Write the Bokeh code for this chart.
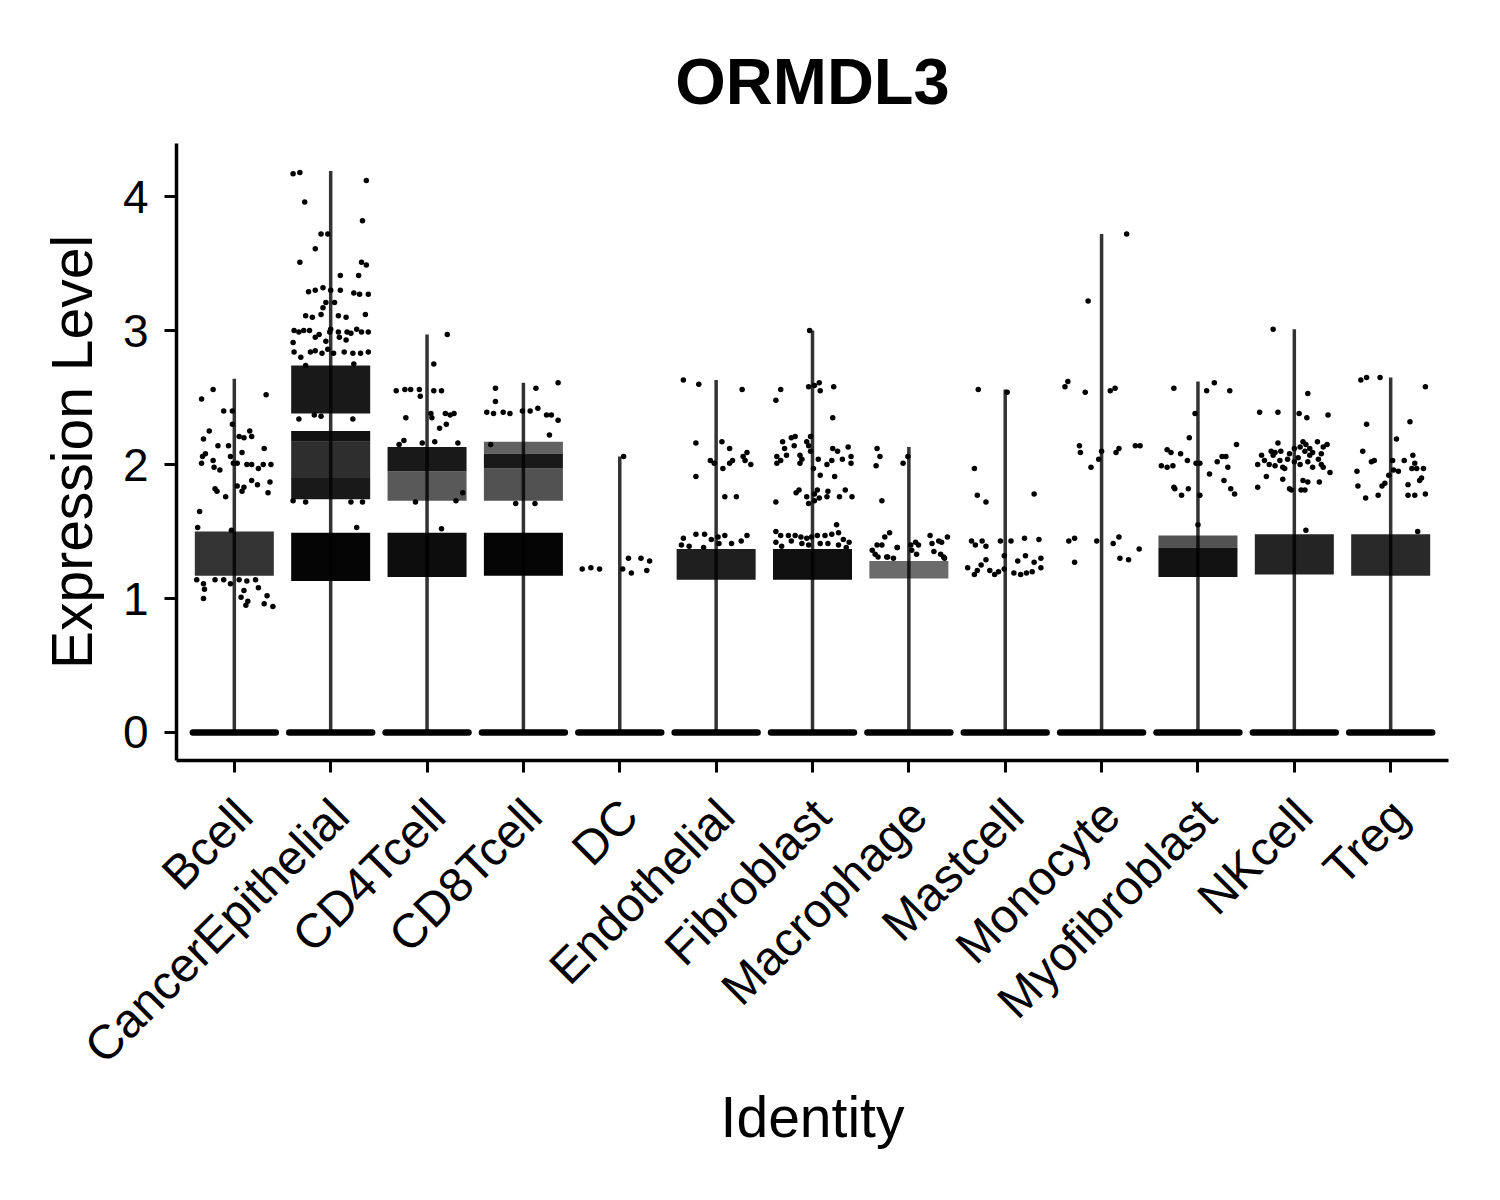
from math import pi
from bokeh.plotting import figure
from bokeh.models import Range1d, FixedTicker, ColumnDataSource
from bokeh.embed import file_html
from bokeh.resources import INLINE

FONT = "Liberation Sans"

cell_types = ["Bcell", "CancerEpithelial", "CD4Tcell", "CD8Tcell", "DC", "Endothelial",
              "Fibroblast", "Macrophage", "Mastcell", "Monocyte", "Myofibroblast", "NKcell", "Treg"]
y_ticks = [0, 1, 2, 3, 4]

# maximum expression per identity (top of the violin)
max_expr = [2.64, 4.19, 2.97, 2.61, 2.06, 2.63, 3.00, 2.13, 2.56, 3.72, 2.62, 3.01, 2.65]

# dense clouds of overlapping cells: identity, lower / upper expression, how packed
band_cell = ["Bcell",
             "CancerEpithelial", "CancerEpithelial", "CancerEpithelial", "CancerEpithelial", "CancerEpithelial",
             "CD4Tcell", "CD4Tcell", "CD4Tcell",
             "CD8Tcell", "CD8Tcell", "CD8Tcell", "CD8Tcell",
             "Endothelial", "Fibroblast", "Macrophage",
             "Myofibroblast", "Myofibroblast", "NKcell", "Treg"]
band_low = [1.17,
            1.13, 1.74, 1.90, 2.17, 2.38,
            1.16, 1.73, 1.95,
            1.17, 1.73, 1.97, 2.08,
            1.14, 1.14, 1.15,
            1.16, 1.38, 1.18, 1.17]
band_high = [1.50,
             1.49, 1.90, 2.17, 2.25, 2.74,
             1.49, 1.95, 2.13,
             1.49, 1.97, 2.08, 2.17,
             1.37, 1.37, 1.28,
             1.38, 1.47, 1.48, 1.48]
band_packing = [0.80,
                0.98, 0.90, 0.82, 0.93, 0.90,
                0.95, 0.65, 0.90,
                0.98, 0.68, 0.90, 0.62,
                0.88, 0.94, 0.58,
                0.93, 0.68, 0.86, 0.84]

# individually visible cells: (jitter, expression)
pts_Bcell = [(-0.34, 2.49), (-0.22, 2.56), (0.33, 2.52), (-0.11, 2.40), (-0.02, 2.40), (-0.02, 2.30),
             (-0.26, 2.25), (-0.32, 2.19), (-0.17, 2.14), (-0.06, 2.14), (0.05, 2.21), (0.10, 2.20),
             (0.18, 2.21), (0.16, 2.25), (0.31, 2.12), (-0.33, 2.06), (-0.30, 2.08), (-0.34, 2.01),
             (-0.22, 2.03), (-0.21, 1.98), (-0.15, 1.96), (-0.04, 2.06), (-0.01, 2.01), (0.03, 2.01),
             (0.08, 2.09), (0.13, 2.00), (0.18, 2.00), (0.25, 1.97), (0.30, 2.00), (0.38, 2.00),
             (0.18, 1.88), (0.24, 1.85), (0.37, 1.87), (-0.20, 1.82), (-0.18, 1.80), (-0.09, 1.76),
             (0.03, 1.84), (0.10, 1.83), (0.08, 1.80), (0.35, 1.79), (-0.36, 1.65), (-0.38, 1.53),
             (-0.03, 1.51), (-0.39, 1.14), (-0.32, 1.11), (-0.31, 1.07), (-0.32, 1.00), (-0.20, 1.14),
             (-0.11, 1.14), (-0.04, 1.11), (0.05, 1.14), (0.13, 1.13), (0.22, 1.14), (0.10, 1.06),
             (0.07, 1.01), (0.14, 0.98), (0.12, 0.95), (0.25, 1.08), (0.34, 1.02), (0.31, 0.96),
             (0.40, 0.94)]
pts_CancerEpithelial = [(-0.39, 4.17), (-0.32, 4.18), (0.37, 4.12), (-0.27, 3.96), (0.33, 3.82),
                        (-0.10, 3.72), (-0.03, 3.72), (-0.16, 3.61), (-0.32, 3.51), (0.32, 3.51),
                        (0.37, 3.49), (0.10, 3.41), (0.29, 3.41), (-0.23, 3.29), (-0.16, 3.30),
                        (-0.08, 3.32), (0.00, 3.30), (0.10, 3.30), (0.24, 3.28), (0.30, 3.27),
                        (0.39, 3.27), (-0.05, 3.21), (0.04, 3.21), (-0.08, 3.17), (-0.26, 3.11),
                        (-0.19, 3.10), (-0.10, 3.12), (0.08, 3.11), (0.16, 3.10), (0.36, 3.12),
                        (-0.38, 3.00), (-0.33, 2.99), (-0.28, 3.00), (-0.22, 3.00), (-0.16, 2.95),
                        (-0.12, 2.97), (-0.05, 2.92), (-0.01, 2.99), (0.00, 3.01), (0.08, 2.99),
                        (0.17, 2.99), (0.09, 2.95), (0.16, 2.93), (0.21, 2.98), (0.27, 3.01),
                        (0.32, 2.99), (0.39, 2.99), (-0.39, 2.91), (-0.38, 2.84), (-0.31, 2.80),
                        (-0.21, 2.84), (-0.16, 2.85), (-0.09, 2.83), (-0.03, 2.86), (0.03, 2.83),
                        (0.14, 2.84), (0.23, 2.83), (0.31, 2.83), (0.39, 2.84), (0.24, 2.75),
                        (-0.26, 2.74), (-0.33, 2.34), (-0.17, 2.37), (-0.10, 2.36), (0.23, 2.34),
                        (-0.39, 1.73), (-0.26, 1.72), (0.21, 1.72), (0.33, 1.72), (0.27, 1.53)]
pts_CD4Tcell = [(0.21, 2.97), (0.07, 2.75), (-0.32, 2.55), (-0.23, 2.56), (-0.17, 2.56), (-0.08, 2.56),
                (-0.07, 2.51), (0.07, 2.55), (0.15, 2.55), (-0.22, 2.35), (0.04, 2.38), (0.05, 2.35),
                (0.19, 2.38), (0.24, 2.37), (0.28, 2.38), (0.13, 2.27), (0.20, 2.30), (-0.24, 2.18),
                (-0.29, 2.15), (0.08, 2.17), (0.32, 2.16), (-0.05, 2.16), (0.15, 1.52), (0.30, 1.73),
                (0.37, 1.79), (-0.12, 1.72)]
pts_CD8Tcell = [(0.36, 2.61), (-0.29, 2.57), (0.13, 2.57), (-0.29, 2.47), (-0.38, 2.39), (-0.31, 2.38),
                (-0.21, 2.39), (-0.14, 2.38), (-0.01, 2.40), (0.07, 2.40), (0.15, 2.42), (0.24, 2.37),
                (0.29, 2.37), (0.36, 2.33), (0.27, 2.22), (-0.34, 2.15), (-0.08, 1.71), (0.12, 1.71)]
pts_DC = [(-0.39, 1.22), (-0.30, 1.23), (-0.21, 1.22), (0.04, 2.06), (0.09, 1.30), (0.03, 1.22),
          (0.12, 1.19), (0.22, 1.30), (0.31, 1.28), (0.28, 1.21)]
pts_Endothelial = [(-0.34, 2.63), (-0.18, 2.60), (0.27, 2.56), (-0.21, 2.16), (-0.21, 1.91), (0.06, 2.17),
                   (0.14, 2.12), (-0.06, 2.03), (-0.02, 2.01), (0.07, 1.97), (0.14, 2.01), (0.17, 2.03),
                   (0.28, 2.06), (0.32, 2.09), (0.36, 2.00), (0.30, 2.03), (0.09, 1.76), (0.21, 1.76),
                   (-0.34, 1.45), (-0.21, 1.48), (-0.12, 1.48), (-0.05, 1.44), (0.02, 1.46), (0.09, 1.47),
                   (0.16, 1.41), (0.26, 1.43), (0.32, 1.47), (-0.36, 1.40), (-0.28, 1.39), (-0.13, 1.38),
                   (0.03, 1.41)]
pts_Fibroblast = [(-0.03, 3.00), (-0.38, 2.48), (-0.33, 2.56), (-0.04, 2.58), (0.02, 2.59), (0.07, 2.61),
                  (0.08, 2.55), (0.22, 2.58), (0.21, 2.35), (-0.37, 2.06), (-0.33, 2.03), (-0.37, 2.01),
                  (-0.31, 2.17), (-0.27, 2.07), (-0.29, 2.12), (-0.22, 2.20), (-0.18, 2.21), (-0.19, 2.14),
                  (-0.13, 2.07), (-0.13, 2.01), (-0.11, 2.04), (-0.06, 2.17), (-0.04, 2.14), (-0.02, 2.10),
                  (-0.02, 2.21), (0.06, 2.04), (0.15, 2.00), (0.20, 2.03), (0.21, 2.12), (0.26, 2.10),
                  (0.31, 2.04), (0.37, 2.13), (0.40, 2.06), (0.40, 2.01), (0.23, 1.91), (0.08, 1.92),
                  (0.01, 1.97), (-0.38, 1.72), (-0.17, 1.79), (-0.14, 1.81), (-0.06, 1.76), (-0.04, 1.71),
                  (0.02, 1.78), (0.05, 1.81), (0.07, 1.75), (0.02, 1.73), (0.15, 1.76), (0.16, 1.80),
                  (0.28, 1.76), (0.34, 1.81), (0.41, 1.76), (0.25, 1.55), (-0.38, 1.50), (-0.33, 1.47),
                  (-0.25, 1.47), (-0.18, 1.47), (-0.12, 1.46), (-0.06, 1.45), (-0.01, 1.46), (0.05, 1.47),
                  (0.13, 1.47), (0.20, 1.48), (0.27, 1.49), (0.32, 1.44), (0.38, 1.42), (-0.38, 1.42),
                  (-0.32, 1.39), (-0.22, 1.43), (-0.11, 1.41), (-0.04, 1.40), (0.08, 1.41), (0.16, 1.41),
                  (0.27, 1.40), (0.35, 1.38)]
pts_Macrophage = [(-0.33, 2.12), (-0.30, 2.06), (-0.34, 1.99), (-0.28, 1.73), (-0.06, 2.01), (-0.01, 2.06),
                  (-0.20, 1.49), (-0.25, 1.46), (-0.12, 1.38), (-0.33, 1.40), (-0.28, 1.40), (0.22, 1.47),
                  (0.31, 1.43), (0.34, 1.42), (0.40, 1.46), (0.24, 1.41), (0.07, 1.42), (0.10, 1.40),
                  (-0.38, 1.36), (-0.35, 1.33), (-0.32, 1.31), (-0.23, 1.31), (-0.16, 1.30), (0.03, 1.36),
                  (0.08, 1.33), (0.26, 1.35), (0.33, 1.33), (0.36, 1.31), (-0.12, 1.38), (0.02, 1.40),
                  (0.37, 1.30), (-0.22, 1.31)]
pts_Mastcell = [(-0.28, 2.56), (0.02, 2.54), (-0.32, 1.97), (-0.29, 1.77), (-0.20, 1.72), (-0.35, 1.43),
                (-0.31, 1.40), (-0.24, 1.43), (-0.20, 1.39), (-0.05, 1.43), (0.06, 1.43), (-0.01, 1.32),
                (-0.20, 1.29), (-0.39, 1.23), (-0.32, 1.18), (-0.29, 1.21), (-0.25, 1.25), (-0.16, 1.21),
                (-0.11, 1.18), (-0.07, 1.20), (-0.01, 1.22), (0.13, 1.28), (0.09, 1.19), (0.30, 1.78),
                (0.20, 1.45), (0.35, 1.44), (0.21, 1.32), (0.30, 1.27), (0.37, 1.30), (0.37, 1.23),
                (0.28, 1.20), (0.22, 1.19), (0.16, 1.18)]
pts_Monocyte = [(0.26, 3.72), (-0.14, 3.22), (-0.38, 2.58), (-0.35, 2.62), (-0.17, 2.54), (0.09, 2.55),
                (0.14, 2.57), (-0.23, 2.14), (-0.22, 2.09), (-0.11, 1.98), (-0.03, 2.04), (0.00, 2.10),
                (0.15, 2.09), (0.18, 2.12), (0.35, 2.14), (0.40, 2.14), (-0.34, 1.43), (-0.28, 1.45),
                (-0.28, 1.27), (-0.05, 1.43), (0.12, 1.41), (0.18, 1.46), (0.19, 1.30), (0.28, 1.29),
                (0.39, 1.37)]
pts_Myofibroblast = [(-0.25, 2.57), (0.09, 2.55), (0.17, 2.61), (0.33, 2.55), (-0.03, 2.38), (-0.09, 2.20),
                     (-0.32, 2.11), (-0.28, 2.09), (-0.18, 2.08), (-0.11, 2.03), (-0.38, 1.99), (-0.32, 1.98),
                     (-0.26, 1.99), (-0.02, 2.01), (0.02, 2.01), (0.12, 1.93), (0.20, 2.02), (0.25, 2.06),
                     (0.29, 2.06), (0.31, 1.98), (0.40, 2.15), (0.27, 1.88), (-0.25, 1.83), (-0.24, 1.82),
                     (-0.17, 1.77), (-0.10, 1.82), (0.02, 1.77), (0.34, 1.82), (0.38, 1.78), (0.00, 1.55)]
pts_NKcell = [(-0.22, 3.01), (0.14, 2.53), (-0.36, 2.39), (-0.17, 2.39), (0.05, 2.38), (0.13, 2.35),
              (0.35, 2.37), (-0.17, 2.16), (0.09, 2.17), (0.12, 2.15), (0.24, 2.17), (0.34, 2.15),
              (-0.34, 2.07), (-0.24, 2.10), (-0.20, 2.09), (-0.14, 2.10), (-0.22, 2.07), (-0.05, 2.08),
              (0.00, 2.12), (0.06, 2.13), (0.11, 2.10), (0.16, 2.12), (0.19, 2.09), (0.28, 2.08),
              (0.30, 2.13), (-0.38, 2.00), (-0.26, 2.00), (-0.20, 1.99), (-0.12, 1.98), (-0.10, 1.97),
              (0.00, 2.02), (0.06, 2.00), (0.14, 2.02), (0.19, 1.98), (0.28, 2.00), (0.30, 1.98),
              (-0.29, 1.91), (-0.12, 1.89), (0.09, 1.88), (0.14, 1.87), (0.26, 1.87), (0.37, 1.94),
              (-0.38, 1.83), (-0.05, 1.82), (-0.03, 1.81), (0.07, 1.81), (0.11, 1.81), (0.12, 1.51),
              (-0.07, 2.04), (0.04, 2.05), (0.25, 2.04), (-0.15, 2.03), (-0.31, 2.03), (0.16, 2.07)]
pts_Treg = [(-0.31, 2.63), (-0.25, 2.65), (-0.11, 2.65), (0.36, 2.58), (-0.25, 2.30), (0.20, 2.32),
            (0.06, 2.19), (-0.29, 2.10), (-0.20, 2.02), (-0.17, 2.03), (-0.35, 1.95), (-0.34, 1.84),
            (-0.26, 1.75), (-0.13, 1.77), (-0.09, 1.84), (-0.06, 1.86), (-0.02, 1.92), (0.02, 2.03),
            (0.03, 1.96), (0.08, 1.95), (0.14, 2.03), (0.23, 2.07), (0.25, 2.01), (0.22, 1.97),
            (0.27, 1.97), (0.34, 1.97), (0.32, 1.90), (0.30, 1.88), (0.18, 1.85), (0.18, 1.77),
            (0.25, 1.77), (0.36, 1.78), (0.28, 1.50)]

points_by_cell = {
    "Bcell": pts_Bcell, "CancerEpithelial": pts_CancerEpithelial, "CD4Tcell": pts_CD4Tcell,
    "CD8Tcell": pts_CD8Tcell, "DC": pts_DC, "Endothelial": pts_Endothelial,
    "Fibroblast": pts_Fibroblast, "Macrophage": pts_Macrophage, "Mastcell": pts_Mastcell,
    "Monocyte": pts_Monocyte, "Myofibroblast": pts_Myofibroblast, "NKcell": pts_NKcell,
    "Treg": pts_Treg,
}

# ---- build sources ----
pos = {c: i + 1 for i, c in enumerate(cell_types)}
HALF = 0.41
LABEL_SHIFT = 0.1   # rotated labels hang a little to the right of their tick

violin_src = ColumnDataSource(dict(x=[pos[c] for c in cell_types], top=max_expr,
                                   zero=[0] * len(cell_types)))
zero_src = ColumnDataSource(dict(x0=[pos[c] - 0.43 for c in cell_types],
                                 x1=[pos[c] + 0.43 for c in cell_types],
                                 y=[0] * len(cell_types)))
band_src = ColumnDataSource(dict(left=[pos[c] - HALF for c in band_cell],
                                 right=[pos[c] + HALF for c in band_cell],
                                 bottom=band_low, top=band_high, alpha=band_packing))
px, py = [], []
for c in cell_types:
    for j, v in points_by_cell[c]:
        px.append(pos[c] + j)
        py.append(v)
pt_src = ColumnDataSource(dict(x=px, y=py))

p = figure(frame_width=1272, frame_height=617,
           min_border_left=176, min_border_right=44, min_border_top=143, min_border_bottom=432,
           x_range=Range1d(0.4, 13.6), y_range=Range1d(-0.209, 4.396),
           output_backend="svg", toolbar_location=None)
p.background_fill_color = "white"
p.border_fill_color = "white"
p.outline_line_color = None
p.xgrid.visible = False
p.ygrid.visible = False

p.segment(x0="x", y0="zero", x1="x", y1="top", source=violin_src, line_color="#333333", line_width=3.5)
p.quad(left="left", right="right", bottom="bottom", top="top", source=band_src,
       fill_color="black", fill_alpha="alpha", line_color=None)
p.segment(x0="x0", y0="y", x1="x1", y1="y", source=zero_src, line_color="black",
          line_width=6.5, line_cap="round")
p.scatter(x="x", y="y", source=pt_src, size=5.5, fill_color="black", line_color=None)

# title
p.title.text = "ORMDL3"
p.title.align = "center"
p.title.text_font = FONT
p.title.text_font_size = "65px"
p.title.text_font_style = "bold"
p.title.text_color = "black"
p.title.standoff = 52

# axes
for ax in (p.xaxis[0], p.yaxis[0]):
    ax.axis_line_width = 3.5
    ax.axis_line_color = "black"
    ax.major_tick_line_width = 3
    ax.major_tick_line_color = "black"
    ax.major_tick_in = 0
    ax.major_tick_out = 12
    ax.minor_tick_line_color = None
    ax.major_label_text_font = FONT
    ax.major_label_text_color = "black"
    ax.axis_label_text_font = FONT
    ax.axis_label_text_font_size = "57px"
    ax.axis_label_text_font_style = "normal"
    ax.axis_label_text_color = "black"

p.yaxis.ticker = FixedTicker(ticks=y_ticks)
p.yaxis.major_label_text_font_size = "46px"
p.yaxis.major_label_standoff = 16
p.yaxis.axis_label = "Expression Level"
p.yaxis.axis_label_standoff = 16

# x axis: tick marks drawn as minor ticks at each identity, labels on ticks just right of them
label_ticks = [pos[c] + LABEL_SHIFT for c in cell_types]
p.xaxis.ticker = FixedTicker(ticks=label_ticks, minor_ticks=[pos[c] for c in cell_types])
p.xaxis.major_label_overrides = {t: c for t, c in zip(label_ticks, cell_types)}
p.xaxis.major_tick_line_color = None
p.xaxis.minor_tick_line_color = "black"
p.xaxis.minor_tick_line_width = 3
p.xaxis.minor_tick_in = 0
p.xaxis.minor_tick_out = 12
p.xaxis.major_label_orientation = pi / 4
p.xaxis.major_label_text_font_size = "48px"
p.xaxis.major_label_standoff = 35
p.xaxis.axis_label = "Identity"
p.xaxis.axis_label_standoff = -10

open("out.html", "w").write(file_html(p, INLINE))
